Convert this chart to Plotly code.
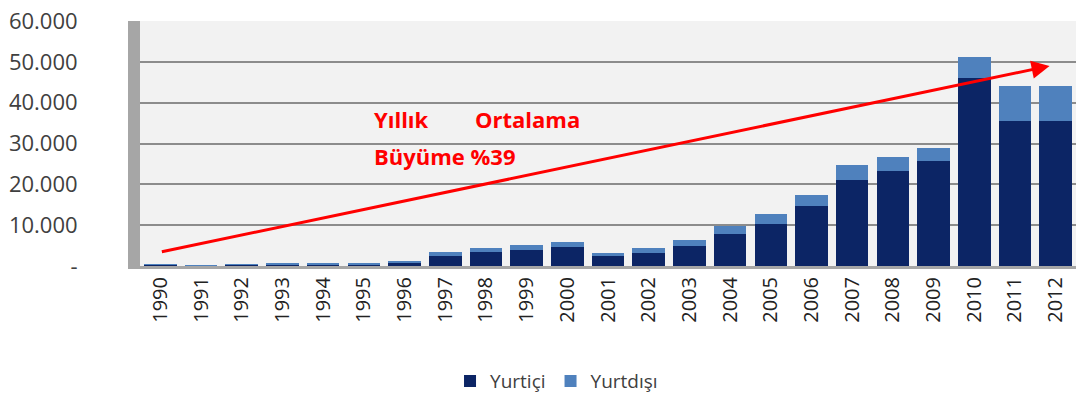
import plotly.graph_objects as go

years = [str(y) for y in range(1990, 2013)]
yurtici = [250, 150, 250, 400, 400, 450, 900, 2500, 3400, 4000, 4600, 2400, 3200, 4900,
           7900, 10400, 14800, 21000, 23300, 25800, 46000, 35500, 35500]
yurtdisi = [80, 60, 80, 120, 120, 150, 300, 900, 1100, 1200, 1400, 900, 1200, 1400,
            2000, 2400, 2700, 3800, 3400, 3100, 5300, 8500, 8600]

ytick_vals = [0, 10000, 20000, 30000, 40000, 50000, 60000]
ytick_text = ["-", "10.000", "20.000", "30.000", "40.000", "50.000", "60.000"]

DARK = "#0C2565"
LIGHT = "#4F81BD"

fig = go.Figure()
fig.add_trace(go.Bar(x=years, y=yurtici, name="Yurtiçi", marker=dict(color=DARK, line=dict(width=0))))
fig.add_trace(go.Bar(x=years, y=yurtdisi, name="Yurtdışı", marker=dict(color=LIGHT, line=dict(width=0))))

fig.update_layout(
    width=1081, height=406,
    barmode="stack", bargap=0.2,
    margin=dict(l=140, r=5, t=18, b=140),
    paper_bgcolor="white", plot_bgcolor="#F2F2F2",
    font=dict(family="Open Sans", color="#404040"),
    showlegend=True,
    legend=dict(orientation="h", x=0.445, xanchor="center", y=-0.47, yanchor="middle",
                font=dict(size=19, color="#404040"), itemwidth=30, traceorder="normal"),
    xaxis=dict(type="category", tickangle=-90, tickfont=dict(size=20, color="#222222"),
               showline=True, linecolor="#A6A6A6", linewidth=3, ticks="", showgrid=False),
    yaxis=dict(range=[0, 60000], tickvals=ytick_vals, ticktext=ytick_text,
               tickfont=dict(size=22, color="#404040"), ticklabelstandoff=46,
               showgrid=True, gridcolor="#8C8C8C", gridwidth=2, zeroline=False,
               showline=True, linecolor="#A6A6A6", linewidth=12),
)

fig.add_annotation(x=21.85, y=49000, ax=0, ay=3400, xref="x", yref="y", axref="x", ayref="y",
                   text="", showarrow=True, arrowhead=2, arrowsize=1.2, arrowwidth=3,
                   arrowcolor="#FF0000")
fig.add_annotation(x=372, y=117, xref="paper", yref="paper", text="<b>Yıllık</b>",
                   showarrow=False, xanchor="left", yanchor="middle",
                   font=dict(size=22, color="#FF0000", family="Open Sans"))
fig.add_annotation(x=473, y=117, xref="paper", yref="paper", text="<b>Ortalama</b>",
                   showarrow=False, xanchor="left", yanchor="middle",
                   font=dict(size=22, color="#FF0000", family="Open Sans"))
fig.add_annotation(x=372, y=155, xref="paper", yref="paper", text="<b>Büyüme %39</b>",
                   showarrow=False, xanchor="left", yanchor="middle",
                   font=dict(size=22, color="#FF0000", family="Open Sans"))

# convert pixel positions of text annotations to paper coords
pw, ph = 1081 - 140 - 5, 406 - 18 - 140
for a in fig.layout.annotations[1:]:
    a.x = (a.x - 140) / pw
    a.y = (406 - 140 - a.y) / ph

fig.write_html("out.html")
